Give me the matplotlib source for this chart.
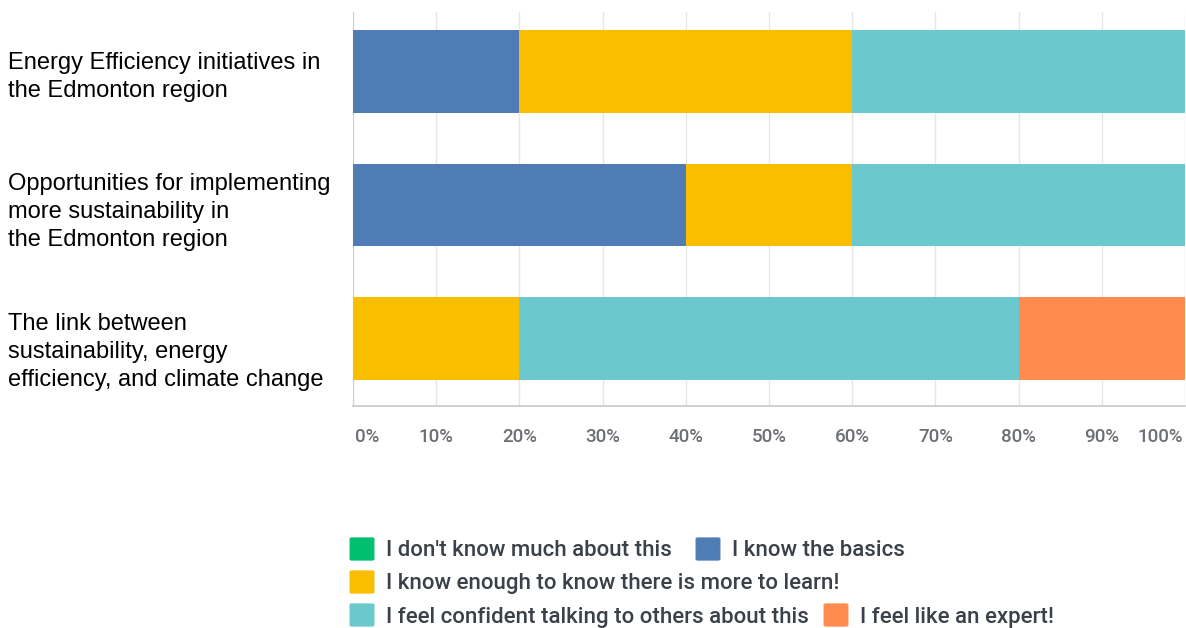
import matplotlib
matplotlib.use("Agg")
import matplotlib.pyplot as plt
from matplotlib.patches import FancyBboxPatch

categories = [
    "Energy Efficiency initiatives in\nthe Edmonton region",
    "Opportunities for implementing\nmore sustainability in\nthe Edmonton region",
    "The link between\nsustainability, energy\nefficiency, and climate change",
]
series_names = [
    "I don't know much about this",
    "I know the basics",
    "I know enough to know there is more to learn!",
    "I feel confident talking to others about this",
    "I feel like an expert!",
]
series_values = [
    [0, 0, 0],
    [20, 40, 0],
    [40, 20, 20],
    [40, 40, 60],
    [0, 0, 20],
]
colors = ["#00bf6f", "#507cb6", "#f9be00", "#6bc8cd", "#ff8b4f"]
tick_values = [0, 10, 20, 30, 40, 50, 60, 70, 80, 90, 100]
tick_labels = ["0%", "10%", "20%", "30%", "40%", "50%", "60%", "70%", "80%", "90%", "100%"]

W, H = 1186, 628
fig = plt.figure(figsize=(W / 100, H / 100), dpi=100)
ax_left, ax_right, ax_top, ax_bot = 353, 1185, 12, 406
ax = fig.add_axes([ax_left / W, 1 - ax_bot / H, (ax_right - ax_left) / W, (ax_bot - ax_top) / H])

y = list(range(len(categories)))
left = [0] * len(categories)
for name, vals, c in zip(series_names, series_values, colors):
    ax.barh(y, vals, left=left, height=0.62, color=c, zorder=3, linewidth=0)
    left = [l + v for l, v in zip(left, vals)]

ax.set_xlim(0, 100)
ax.set_ylim(2.506, -0.446)
ax.set_xticks(tick_values)
ax.set_xticklabels([])
ax.tick_params(axis="x", length=0)
ax.set_yticks([])
ax.grid(axis="x", color="#e6e6e6", linewidth=1, zorder=0)
for s in ["top", "right"]:
    ax.spines[s].set_visible(False)
ax.spines["left"].set_color("#cfcfcf")
ax.spines["bottom"].set_color("#c8c8c8")
ax.spines["bottom"].set_linewidth(1.2)

# x tick labels
for v, lab in zip(tick_values, tick_labels):
    ha = "center"
    xpos = v
    if v == 0:
        ha = "left"
        xpos = 0.2
    elif v == 100:
        ha = "right"
        xpos = 99.8
    ax.text(xpos, 2.506 + 31 / 133.5, lab, ha=ha, va="center",
            fontsize=13.5, color="#6b6e72", family="Roboto", fontweight="medium")

# category labels (pixel offsets below the bar centre)
label_offsets_px = [5.5, 7, 13.5]
for i, cat in enumerate(categories):
    ax.text(-345 / 832 * 100, i + label_offsets_px[i] / 133.5, cat, ha="left", va="center",
            fontsize=17, color="black", family="Liberation Sans",
            linespacing=1.36, clip_on=False)

# legend
legend_layout = [
    (0, 350, 549), (1, 696, 549),
    (2, 350, 582),
    (3, 350, 615), (4, 824, 615),
]
for idx, lx, ly in legend_layout:
    sq = 24
    patch = FancyBboxPatch(((lx + 2) / W, 1 - (ly + sq / 2 - 2) / H), (sq - 4) / W, (sq - 4) / H,
                           boxstyle="round,pad=0.0015", transform=fig.transFigure,
                           facecolor=colors[idx], edgecolor=colors[idx], linewidth=1)
    fig.patches.append(patch)
    fig.text((lx + 36) / W, 1 - (ly + 2) / H, series_names[idx], ha="left", va="center",
             fontsize=16, color="#3a4148", family="Roboto", fontweight="medium")

fig.savefig("out.png", dpi=100)
